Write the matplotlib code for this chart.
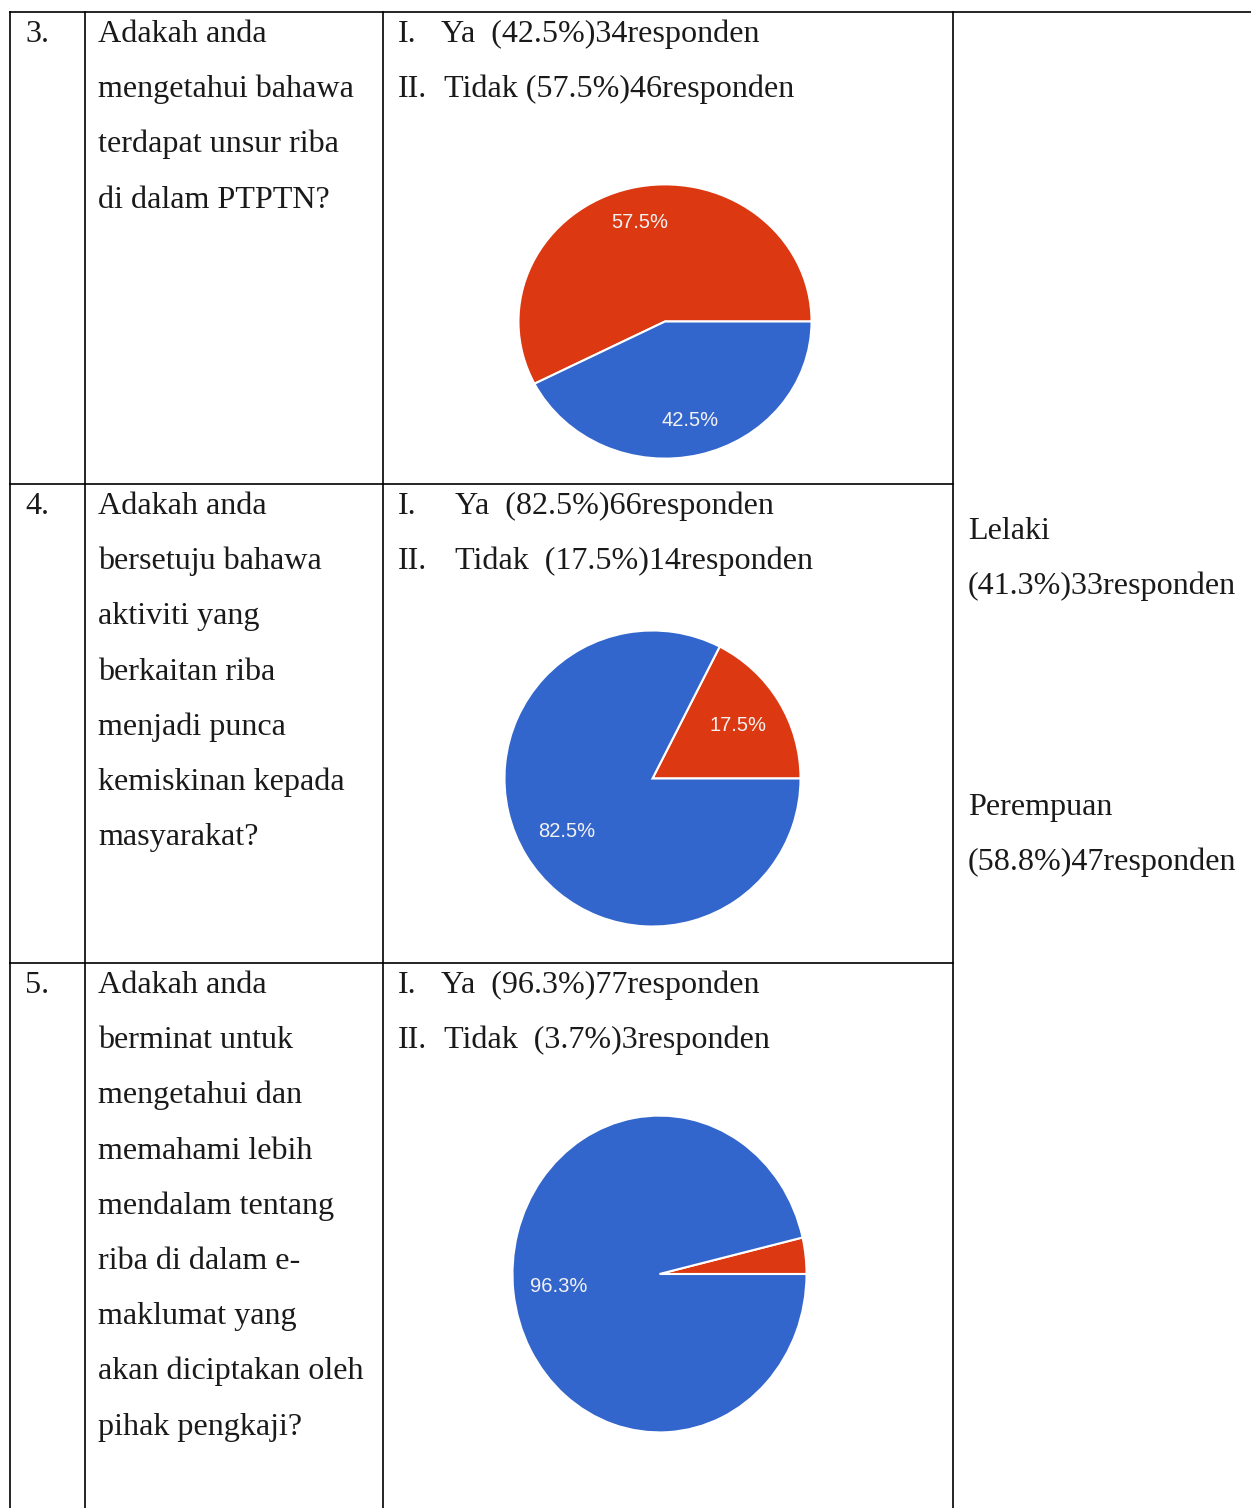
"""
Survey table (questions 3-5 on riba / PTPTN) with Google-Forms style pie
charts in the answer column and the gender split in the merged right column.
"""

import matplotlib

matplotlib.use("Agg")
import matplotlib.pyplot as plt

# ---- data -----------------------------------------------------------------
question_nums = ["3.", "4.", "5."]
question_lines = [
    ["Adakah anda", "mengetahui bahawa", "terdapat unsur riba", "di dalam PTPTN?"],
    ["Adakah anda", "bersetuju bahawa", "aktiviti yang", "berkaitan riba",
     "menjadi punca", "kemiskinan kepada", "masyarakat?"],
    ["Adakah anda", "berminat untuk", "mengetahui dan", "memahami lebih",
     "mendalam tentang", "riba di dalam e-", "maklumat yang",
     "akan diciptakan oleh", "pihak pengkaji?"],
]
answer_labels = ["Ya", "Tidak"]
ya_pct = [42.5, 82.5, 96.3]
tidak_pct = [57.5, 17.5, 3.7]
ya_count = [34, 66, 77]
tidak_count = [46, 14, 3]

gender_labels = ["Lelaki", "Perempuan"]
gender_pct = [41.3, 58.8]
gender_count = [33, 47]

# ---- layout (pixels) ------------------------------------------------------
W, H = 1251, 1508
SERIF = ["Liberation Serif", "DejaVu Serif"]
FS = 23.15
LINE = 55.2
BLUE = "#3366cc"
RED = "#dc3912"
INK = "#1a1a1a"

col_x = [10, 85, 383, 953]
row_top = [12, 484, 963]
pie_boxes = [(517, 183, 813, 460), (503, 629, 802, 928), (511, 1114, 808, 1434)]
pct_dist = [0.74, 0.68, 0.69]
# x of "Ya"/"Tidak" after the roman numerals, and spaces before the brackets
ans_x = [(441, 444), (455, 455), (441, 444)]
ans_gap = [("  ", " "), ("  ", "  "), ("  ", "  ")]

fig = plt.figure(figsize=(W / 100, H / 100), dpi=100)
ax = fig.add_axes([0, 0, 1, 1])
ax.set_xlim(0, W)
ax.set_ylim(H, 0)
ax.axis("off")

# table rules
lw = 1.2
ax.plot([col_x[0], W], [row_top[0], row_top[0]], color="black", lw=lw)
for x in col_x:
    ax.plot([x, x], [row_top[0], H], color="black", lw=lw)
for y in row_top[1:]:
    ax.plot([col_x[0], col_x[3]], [y, y], color="black", lw=lw)

txt = dict(family=SERIF, fontsize=FS, va="baseline", color=INK)

for i in range(3):
    base = row_top[i] + 30
    ax.text(25, base, question_nums[i], **txt)
    for k, line in enumerate(question_lines[i]):
        ax.text(98, base + k * LINE, line, **txt)

    ax.text(398, base, "I.", **txt)
    ax.text(ans_x[i][0], base,
            f"{answer_labels[0]}{ans_gap[i][0]}({ya_pct[i]}%){ya_count[i]}responden",
            **txt)
    ax.text(398, base + LINE, "II.", **txt)
    ax.text(ans_x[i][1], base + LINE,
            f"{answer_labels[1]}{ans_gap[i][1]}({tidak_pct[i]}%){tidak_count[i]}responden",
            **txt)

    # pie chart: Tidak (red) first, counter-clockwise from 3 o'clock
    x0, y0, x1, y1 = pie_boxes[i]
    pax = fig.add_axes([x0 / W, 1 - y1 / H, (x1 - x0) / W, (y1 - y0) / H])
    vals = [tidak_pct[i], ya_pct[i]]
    labels_txt = iter([f"{v}%" if v >= 5 else "" for v in vals])
    pax.pie(
        vals, colors=[RED, BLUE], startangle=0, counterclock=True,
        radius=1, autopct=lambda p: next(labels_txt), pctdistance=pct_dist[i],
        wedgeprops=dict(edgecolor="white", linewidth=1.5),
        textprops=dict(color="#f2f2f2", fontsize=14.5,
                       family=["Liberation Sans", "DejaVu Sans"]),
    )
    pax.set_aspect("auto")
    pax.set_xlim(-1.01, 1.01)
    pax.set_ylim(-1.01, 1.01)
    pax.axis("off")

# merged right column: gender split
gender_base = [539, 815]
for g in range(2):
    ax.text(968, gender_base[g], gender_labels[g], **txt)
    ax.text(968, gender_base[g] + LINE,
            f"({gender_pct[g]}%){gender_count[g]}responden", **txt)

fig.savefig("out.png", dpi=100)
